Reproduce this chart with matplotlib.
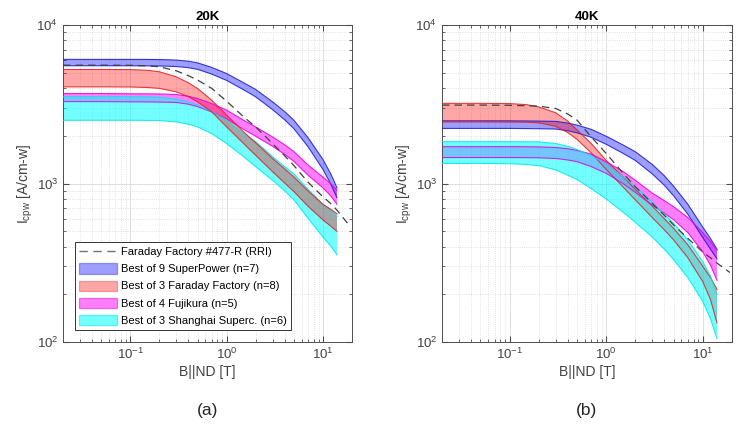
import matplotlib.pyplot as plt
from matplotlib.lines import Line2D
from matplotlib.patches import Patch

plt.rcParams['font.family'] = ['Liberation Sans', 'DejaVu Sans']
plt.rcParams['mathtext.default'] = 'regular'

# applied field B||ND [T], shared by all tape bands
b_field = [0.02, 0.05, 0.1, 0.15, 0.2, 0.3, 0.4, 0.5, 0.7, 1, 1.5, 2, 3, 4, 5, 7, 10, 12, 14]
# reference tape (Faraday Factory #477-R, RRI) field points
b_ref = b_field + [19]

# ---- 20 K, Icpw [A/cm-w] ----
ref20 = [5590, 5590, 5580, 5530, 5460, 5150, 4800, 4500, 3990, 3310, 2640, 2280, 1790, 1500, 1300, 1020, 826, 750, 680, 540]
sp20_hi = [6080, 6080, 6080, 6075, 6065, 6020, 5920, 5780, 5410, 4950, 4330, 3930, 3280, 2850, 2510, 1950, 1420, 1160, 940]
sp20_lo = [5540, 5540, 5540, 5535, 5525, 5480, 5390, 5260, 4910, 4480, 3910, 3530, 2930, 2530, 2220, 1710, 1230, 1000, 815]
ff20_hi = [5250, 5250, 5240, 5190, 5080, 4720, 4330, 3980, 3360, 2710, 2120, 1810, 1440, 1240, 1100, 900, 740, 690, 645]
ff20_lo = [4080, 4080, 4070, 4040, 3990, 3790, 3540, 3280, 2840, 2280, 1790, 1510, 1190, 1010, 890, 720, 590, 540, 500]
fk20_hi = [3700, 3700, 3690, 3685, 3680, 3650, 3560, 3440, 3200, 2910, 2510, 2280, 1970, 1760, 1590, 1310, 1100, 1000, 910]
fk20_lo = [3290, 3290, 3280, 3275, 3270, 3250, 3170, 3060, 2830, 2560, 2200, 1990, 1720, 1530, 1380, 1130, 940, 840, 740]
sh20_hi = [3530, 3530, 3530, 3525, 3510, 3400, 3260, 3130, 2840, 2510, 2070, 1840, 1480, 1280, 1150, 920, 740, 680, 620]
sh20_lo = [2510, 2510, 2510, 2505, 2500, 2450, 2370, 2280, 2070, 1790, 1480, 1280, 1050, 900, 790, 605, 460, 405, 355]

# ---- 40 K, Icpw [A/cm-w] ----
ref40 = [3130, 3130, 3120, 3100, 3080, 2980, 2750, 2510, 1970, 1550, 1160, 955, 750, 630, 547, 451, 370, 340, 315, 275]
sp40_hi = [2490, 2490, 2490, 2485, 2480, 2470, 2410, 2340, 2200, 1990, 1750, 1590, 1320, 1120, 960, 740, 530, 450, 385]
sp40_lo = [2230, 2230, 2230, 2225, 2220, 2210, 2155, 2090, 1960, 1770, 1550, 1400, 1150, 975, 835, 640, 455, 385, 335]
ff40_hi = [3210, 3210, 3200, 3150, 3050, 2800, 2480, 2180, 1790, 1400, 1100, 920, 720, 600, 520, 410, 300, 255, 215]
ff40_lo = [2450, 2450, 2445, 2440, 2420, 2300, 2100, 1900, 1560, 1230, 950, 790, 610, 510, 440, 340, 240, 185, 132]
fk40_hi = [1710, 1710, 1710, 1708, 1705, 1690, 1660, 1620, 1535, 1375, 1190, 1050, 870, 780, 714, 610, 490, 430, 380]
fk40_lo = [1460, 1460, 1460, 1458, 1455, 1440, 1410, 1375, 1280, 1160, 1000, 880, 730, 650, 590, 490, 370, 305, 245]
sh40_hi = [1840, 1840, 1840, 1838, 1835, 1790, 1720, 1640, 1500, 1330, 1100, 960, 760, 640, 560, 440, 320, 260, 200]
sh40_lo = [1340, 1340, 1335, 1320, 1300, 1220, 1130, 1060, 930, 800, 660, 570, 460, 385, 330, 255, 180, 140, 105]

labels = ['Faraday Factory #477-R (RRI)',
          'Best of 9 SuperPower (n=7)',
          'Best of 3 Faraday Factory (n=8)',
          'Best of 4 Fujikura (n=5)',
          'Best of 3 Shanghai Superc. (n=6)']

styles = {
    'sp': dict(color='#0000ff', edge='#1a1acc', alpha=0.38),
    'ff': dict(color='#ff0000', edge='#e02020', alpha=0.35),
    'fk': dict(color='#ff00ff', edge='#e000e0', alpha=0.5),
    'sh': dict(color='#00ffff', edge='#00e8e8', alpha=0.55),
}


def band(ax, lo, hi, key):
    st = styles[key]
    ax.fill_between(b_field, lo, hi, facecolor=st['color'], alpha=st['alpha'],
                    edgecolor='none', zorder=2)
    ax.plot(b_field, hi, color=st['edge'], lw=0.8, alpha=0.85, zorder=3)
    ax.plot(b_field, lo, color=st['edge'], lw=0.8, alpha=0.85, zorder=3)


def panel(ax, title, bands, ref):
    for lo, hi, key in bands:
        band(ax, lo, hi, key)
    ax.plot(b_ref, ref, color='0.25', lw=0.9, ls=(0, (6, 4)), zorder=4)
    ax.set_xscale('log')
    ax.set_yscale('log')
    ax.set_xlim(0.02, 20)
    ax.set_ylim(100, 10000)
    ax.set_title(title, fontsize=9.5, fontweight='bold', pad=4)
    ax.set_xlabel('B||ND [T]', fontsize=10, color='0.25', labelpad=2)
    ax.set_ylabel('$I_{cpw}$ [A/cm-w]', fontsize=10, color='0.25', labelpad=1)
    ax.grid(which='major', color='0.85', lw=0.6)
    ax.grid(which='minor', color='0.85', lw=0.6, ls=':')
    ax.tick_params(which='both', direction='in', top=True, right=True,
                   colors='0.3', labelsize=9.5, labelcolor='0.25')
    ax.tick_params(which='major', length=4)
    ax.tick_params(which='minor', length=2)
    for s in ax.spines.values():
        s.set_color('0.3')
        s.set_linewidth(0.7)


fig = plt.figure(figsize=(7.37, 4.26), dpi=100)
ax1 = fig.add_axes([0.0855, 0.197, 0.392, 0.744])
ax2 = fig.add_axes([0.5997, 0.197, 0.3935, 0.744])

panel(ax1, '20K', [(sp20_lo, sp20_hi, 'sp'), (fk20_lo, fk20_hi, 'fk'),
                   (sh20_lo, sh20_hi, 'sh'), (ff20_lo, ff20_hi, 'ff')], ref20)
panel(ax2, '40K', [(sp40_lo, sp40_hi, 'sp'), (ff40_lo, ff40_hi, 'ff'),
                   (fk40_lo, fk40_hi, 'fk'), (sh40_lo, sh40_hi, 'sh')], ref40)

handles = [Line2D([], [], color='0.45', lw=1.0, ls=(0, (6, 4)))]
for key in ['sp', 'ff', 'fk', 'sh']:
    st = styles[key]
    handles.append(Patch(facecolor=st['color'], alpha=st['alpha'],
                         edgecolor=st['edge'], lw=0.9))
leg = ax1.legend(handles, labels, loc='lower left', bbox_to_anchor=(0.0415, 0.038),
                 fontsize=8, frameon=True, fancybox=False, framealpha=1,
                 edgecolor='0.2', handlelength=3.4, handleheight=1.05,
                 handletextpad=0.3, borderpad=0.4, labelspacing=0.55,
                 borderaxespad=0)
leg.get_frame().set_linewidth(0.7)
leg.set_zorder(10)

fig.text(0.281, 0.037, '(a)', fontsize=12.5, ha='center', va='center', color='0.15')
fig.text(0.796, 0.037, '(b)', fontsize=12.5, ha='center', va='center', color='0.15')

fig.savefig('out.png', dpi=100)
